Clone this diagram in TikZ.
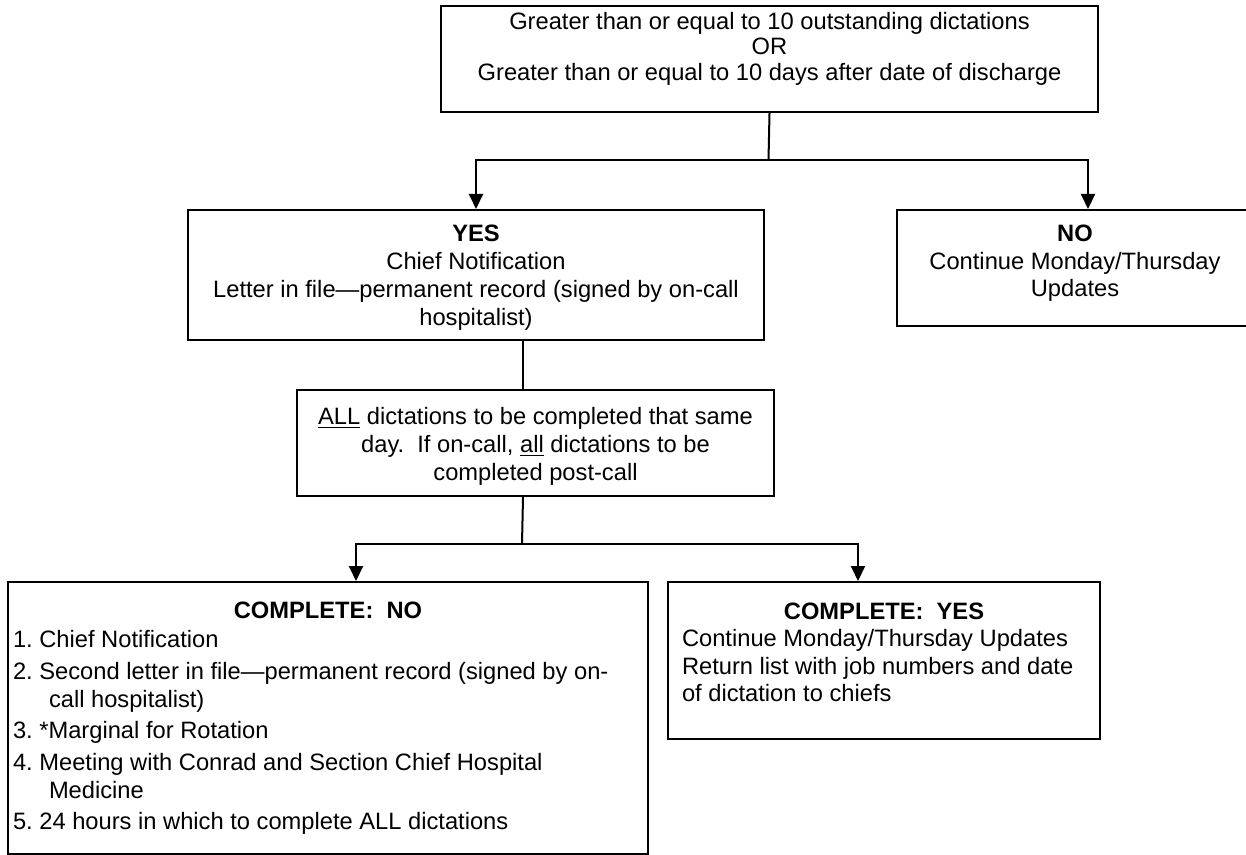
\documentclass[tikz,border=0pt]{standalone}
\usepackage{fontspec}
\setmainfont{Liberation Sans}
\usetikzlibrary{arrows.meta}
\newcommand{\bodyfs}{\fontsize{11.85pt}{13.9pt}\selectfont}
\frenchspacing
\lineskiplimit=-20pt
\tikzset{
  box/.style={draw, line width=1pt, inner ysep=0pt, inner xsep=7pt, anchor=north west, font=\bodyfs},
  conn/.style={line width=1pt},
  arr/.style={line width=1pt, -{Triangle[width=7pt,length=7.5pt]}},
}
\begin{document}
\begin{tikzpicture}[x=0.5pt, y=-0.5pt]
\useasboundingbox (0,0) rectangle (1246,855);

% top decision box
\node[box] (top) at (440,5) {\parbox[c][53pt][t]{314.5pt}{\centering\baselineskip=12.75pt
  \rule{0pt}{11.65pt}Greater than or equal to 10 outstanding dictations\\
  OR\\
  Greater than or equal to 10 days after date of discharge\par}};

% YES box
\node[box] (yes) at (187,209) {\parbox[c][65pt][t]{274pt}{\centering\baselineskip=13.9pt
  \rule{0pt}{15.85pt}\textbf{YES}\\
  Chief Notification\\
  Letter in file—permanent record (signed by on-call\\
  hospitalist)\par}};

% NO box
\node[box] (no) at (896,209) {\parbox[c][58pt][t]{164pt}{\centering\baselineskip=13.75pt
  \rule{0pt}{15.85pt}\textbf{NO}\\
  Continue Monday/Thursday\\
  Updates\par}};

% middle box
\node[box] (mid) at (296,389) {\parbox[c][53pt][t]{224.5pt}{\centering\baselineskip=14pt
  \rule{0pt}{17.15pt}\underline{ALL} dictations to be completed that same\\
  day.\ \ If on-call, \underline{all} dictations to be\\
  completed post-call\par}};

% COMPLETE: NO box
\node[box, inner xsep=2.5pt] (cno) at (7,581) {\parbox[c][136pt][t]{315pt}{\baselineskip=14pt
  {\centering\rule{0pt}{18.15pt}\textbf{COMPLETE:\ \ NO}\par}
  \vspace{0.7pt}
  \raggedright
  \hangindent=18pt\hangafter=1 1.\ Chief Notification\par
  \vspace{1.75pt}
  \hangindent=18pt\hangafter=1 2.\ Second letter in file—permanent record (signed by on-\newline call hospitalist)\par
  \vspace{1.75pt}
  \hangindent=18pt\hangafter=1 3.\ *Marginal for Rotation\par
  \vspace{1.75pt}
  \hangindent=18pt\hangafter=1 4.\ Meeting with Conrad and Section Chief Hospital\newline Medicine\par
  \vspace{1.75pt}
  \hangindent=18pt\hangafter=1 5.\ 24 hours in which to complete ALL dictations\par}};

% COMPLETE: YES box
\node[box] (cyes) at (667,581) {\parbox[c][78.5pt][t]{202pt}{\baselineskip=13.75pt
  {\centering\rule{0pt}{18.65pt}\textbf{COMPLETE:\ \ YES}\par}
  \raggedright
  Continue Monday/Thursday Updates\\
  Return list with job numbers and date\\
  of dictation to chiefs\par}};

% connectors
\coordinate (j1) at (768.5,160);
\draw[conn] (top.south) -- (j1);
\draw[arr] (j1) -| (yes.north);
\draw[arr] (j1) -| ([xshift=6.5pt]no.north);

\draw[conn] ([xshift=23.5pt]yes.south) -- ([xshift=-6.25pt]mid.north);

\coordinate (j2) at (522,544);
\draw[conn] ([xshift=-6.25pt]mid.south) -- (j2);
\draw[arr] (j2) -| ([xshift=14pt]cno.north);
\draw[arr] (j2) -| ([xshift=-13pt]cyes.north);
\end{tikzpicture}
\end{document}
